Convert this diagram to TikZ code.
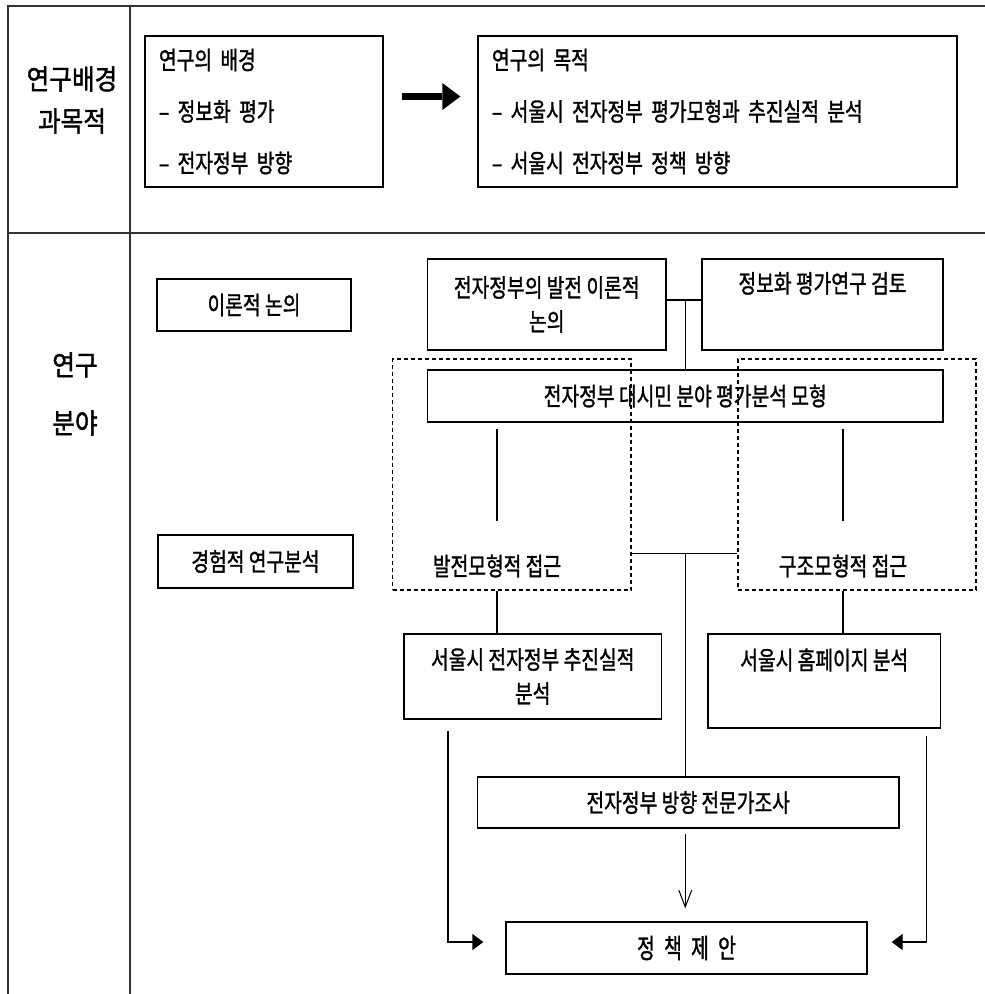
\documentclass[tikz,border=0pt]{standalone}
\usepackage{fontspec}
\usetikzlibrary{arrows.meta,calc}
\newfontfamily\kr[FakeStretch=0.77,FakeBold=1.2]{Noto Sans CJK KR}
\newfontfamily\krhead[FakeStretch=0.88,FakeBold=1.4]{Noto Sans CJK KR}
\newfontfamily\krsp[FakeStretch=0.72,FakeBold=1.2,WordSpace=2.1]{Noto Sans CJK KR}
\definecolor{rulegray}{HTML}{333333}

\begin{document}
\begin{tikzpicture}[x=1pt,y=-1pt,
  frame/.style={draw=rulegray, line width=2pt},
  box/.style={draw=black, line width=1.3pt, inner sep=0pt, align=center,
    font=\kr\fontsize{25}{34}\selectfont},
  listbox/.style={draw=black, line width=1.3pt, inner ysep=0pt, inner xsep=14pt,
    align=left, font=\kr\fontsize{25}{51.5}\selectfont},
  sidelabel/.style={inner sep=0pt, align=center},
  plain/.style={inner sep=0pt, align=center, font=\kr\fontsize{25}{34}\selectfont},
  dashbox/.style={draw=black, line width=1.3pt, dash pattern=on 4pt off 3pt, inner sep=0pt},
  link/.style={draw=black, line width=1.3pt},
  thinlink/.style={draw=black, line width=1pt},
]
\useasboundingbox (0,0) rectangle (985,994);

% table rules
\draw[frame] (8,994) -- (8,6) -- (985,6);
\draw[frame] (130,6) -- (130,994);
\draw[frame] (8,233) -- (985,233);

% left column headings
\node[sidelabel, font=\krhead\fontsize{28}{42}\selectfont] (head1) at (72,100) {연구배경\\과목적};
\node[sidelabel, font=\krhead\fontsize{28}{58}\selectfont] (head2) at (75,394) {연구\\분야};

% background and aims
\node[listbox, minimum height=151pt, text width=210pt] (bgA) at (264,111.5)
  {연구의 배경\\– 정보화 평가\\– 전자정부 방향};
\node[listbox, minimum height=151pt, text width=451pt] (bgB) at (717.5,111.5)
  {연구의 목적\\– 서울시 전자정부 평가모형과 추진실적 분석\\– 서울시 전자정부 정책 방향};
\coordinate (ha) at ([yshift=15pt]bgA.east);
\draw[line width=7pt, -{Triangle[length=18pt,width=27pt,line width=0pt]},
  shorten <=18pt, shorten >=17pt] (ha) -- (ha -| bgB.west);

% research areas
\node[box, minimum width=194pt, minimum height=52pt] (theo) at (254,305) {이론적 논의};
\node[box, minimum width=195pt, minimum height=53pt] (emp) at (255.5,561.5) {경험적 연구분석};

\node[box, minimum width=238.5pt, minimum height=91pt] (theory) at (546.75,304.5)
  {전자정부의 발전 이론적\\논의};
\node[box, minimum width=241pt, minimum height=91pt] (review) at (822.5,304.5)
  {정보화 평가연구 검토\\\strut};
\node[box, minimum width=515.5pt, minimum height=52pt] (model) at (685.25,396)
  {전자정부 대시민 분야 평가분석 모형};

\node[dashbox, minimum width=238.5pt, minimum height=231pt] (devbox) at (511.75,474.5) {};
\node[dashbox, minimum width=238pt, minimum height=231pt] (strbox) at (857,474.5) {};
\node[plain] (devtxt) at (497,566) {발전모형적 접근};
\node[plain] (strtxt) at (843,566) {구조모형적 접근};

\node[box, minimum width=257.5pt, minimum height=85pt] (perf) at (532.75,676.5)
  {서울시 전자정부 추진실적\\분석};
\node[box, minimum width=232.5pt, minimum height=94pt] (web) at (824.25,681)
  {서울시 홈페이지 분석\\\strut};
\node[box, minimum width=421.5pt, minimum height=51pt] (expert) at (688.25,802.5)
  {전자정부 방향 전문가조사};
\node[box, minimum width=361pt, minimum height=52pt, font=\krsp\fontsize{27}{34}\selectfont]
  (policy) at (686.5,948) {정 책 제 안};

% connectors
\coordinate (tj) at ([yshift=4.5pt]theory.east);
\draw[link] (tj) -- (tj -| review.west);
\draw[link] (tj -| model.north) -- (model.north);

\draw[link, shorten <=6pt, shorten >=33pt] (model.south -| devtxt.north) -- (devtxt.north);
\draw[link, shorten <=6pt, shorten >=33pt] (model.south -| strtxt.north) -- (strtxt.north);

\coordinate (split) at ($(devbox.south east)+(0,-37)$);
\draw[link] (split) -- (split -| strbox.west);
\draw[link] (split -| model.south) -- (expert.north -| model.south);

\draw[link] (devbox.south -| devtxt) -- (perf.north -| devtxt);
\draw[link] (strbox.south -| strtxt) -- (web.north -| strtxt);

\draw[thinlink, -{Straight Barb[length=17pt,width=13pt]}, shorten <=5pt, shorten >=13pt]
  (expert.south -| model.south) -- (policy.north -| model.south);

\draw[link, -{Triangle[length=11pt,width=16pt]}, shorten <=11pt, shorten >=22pt]
  ([xshift=44.7pt]perf.south west) |- ([yshift=6pt]policy.west);
\draw[link, -{Triangle[length=11pt,width=16pt]}, shorten <=7pt, shorten >=24pt]
  ([xshift=-14.5pt]web.south east) |- ([yshift=6pt]policy.east);
\end{tikzpicture}
\end{document}
